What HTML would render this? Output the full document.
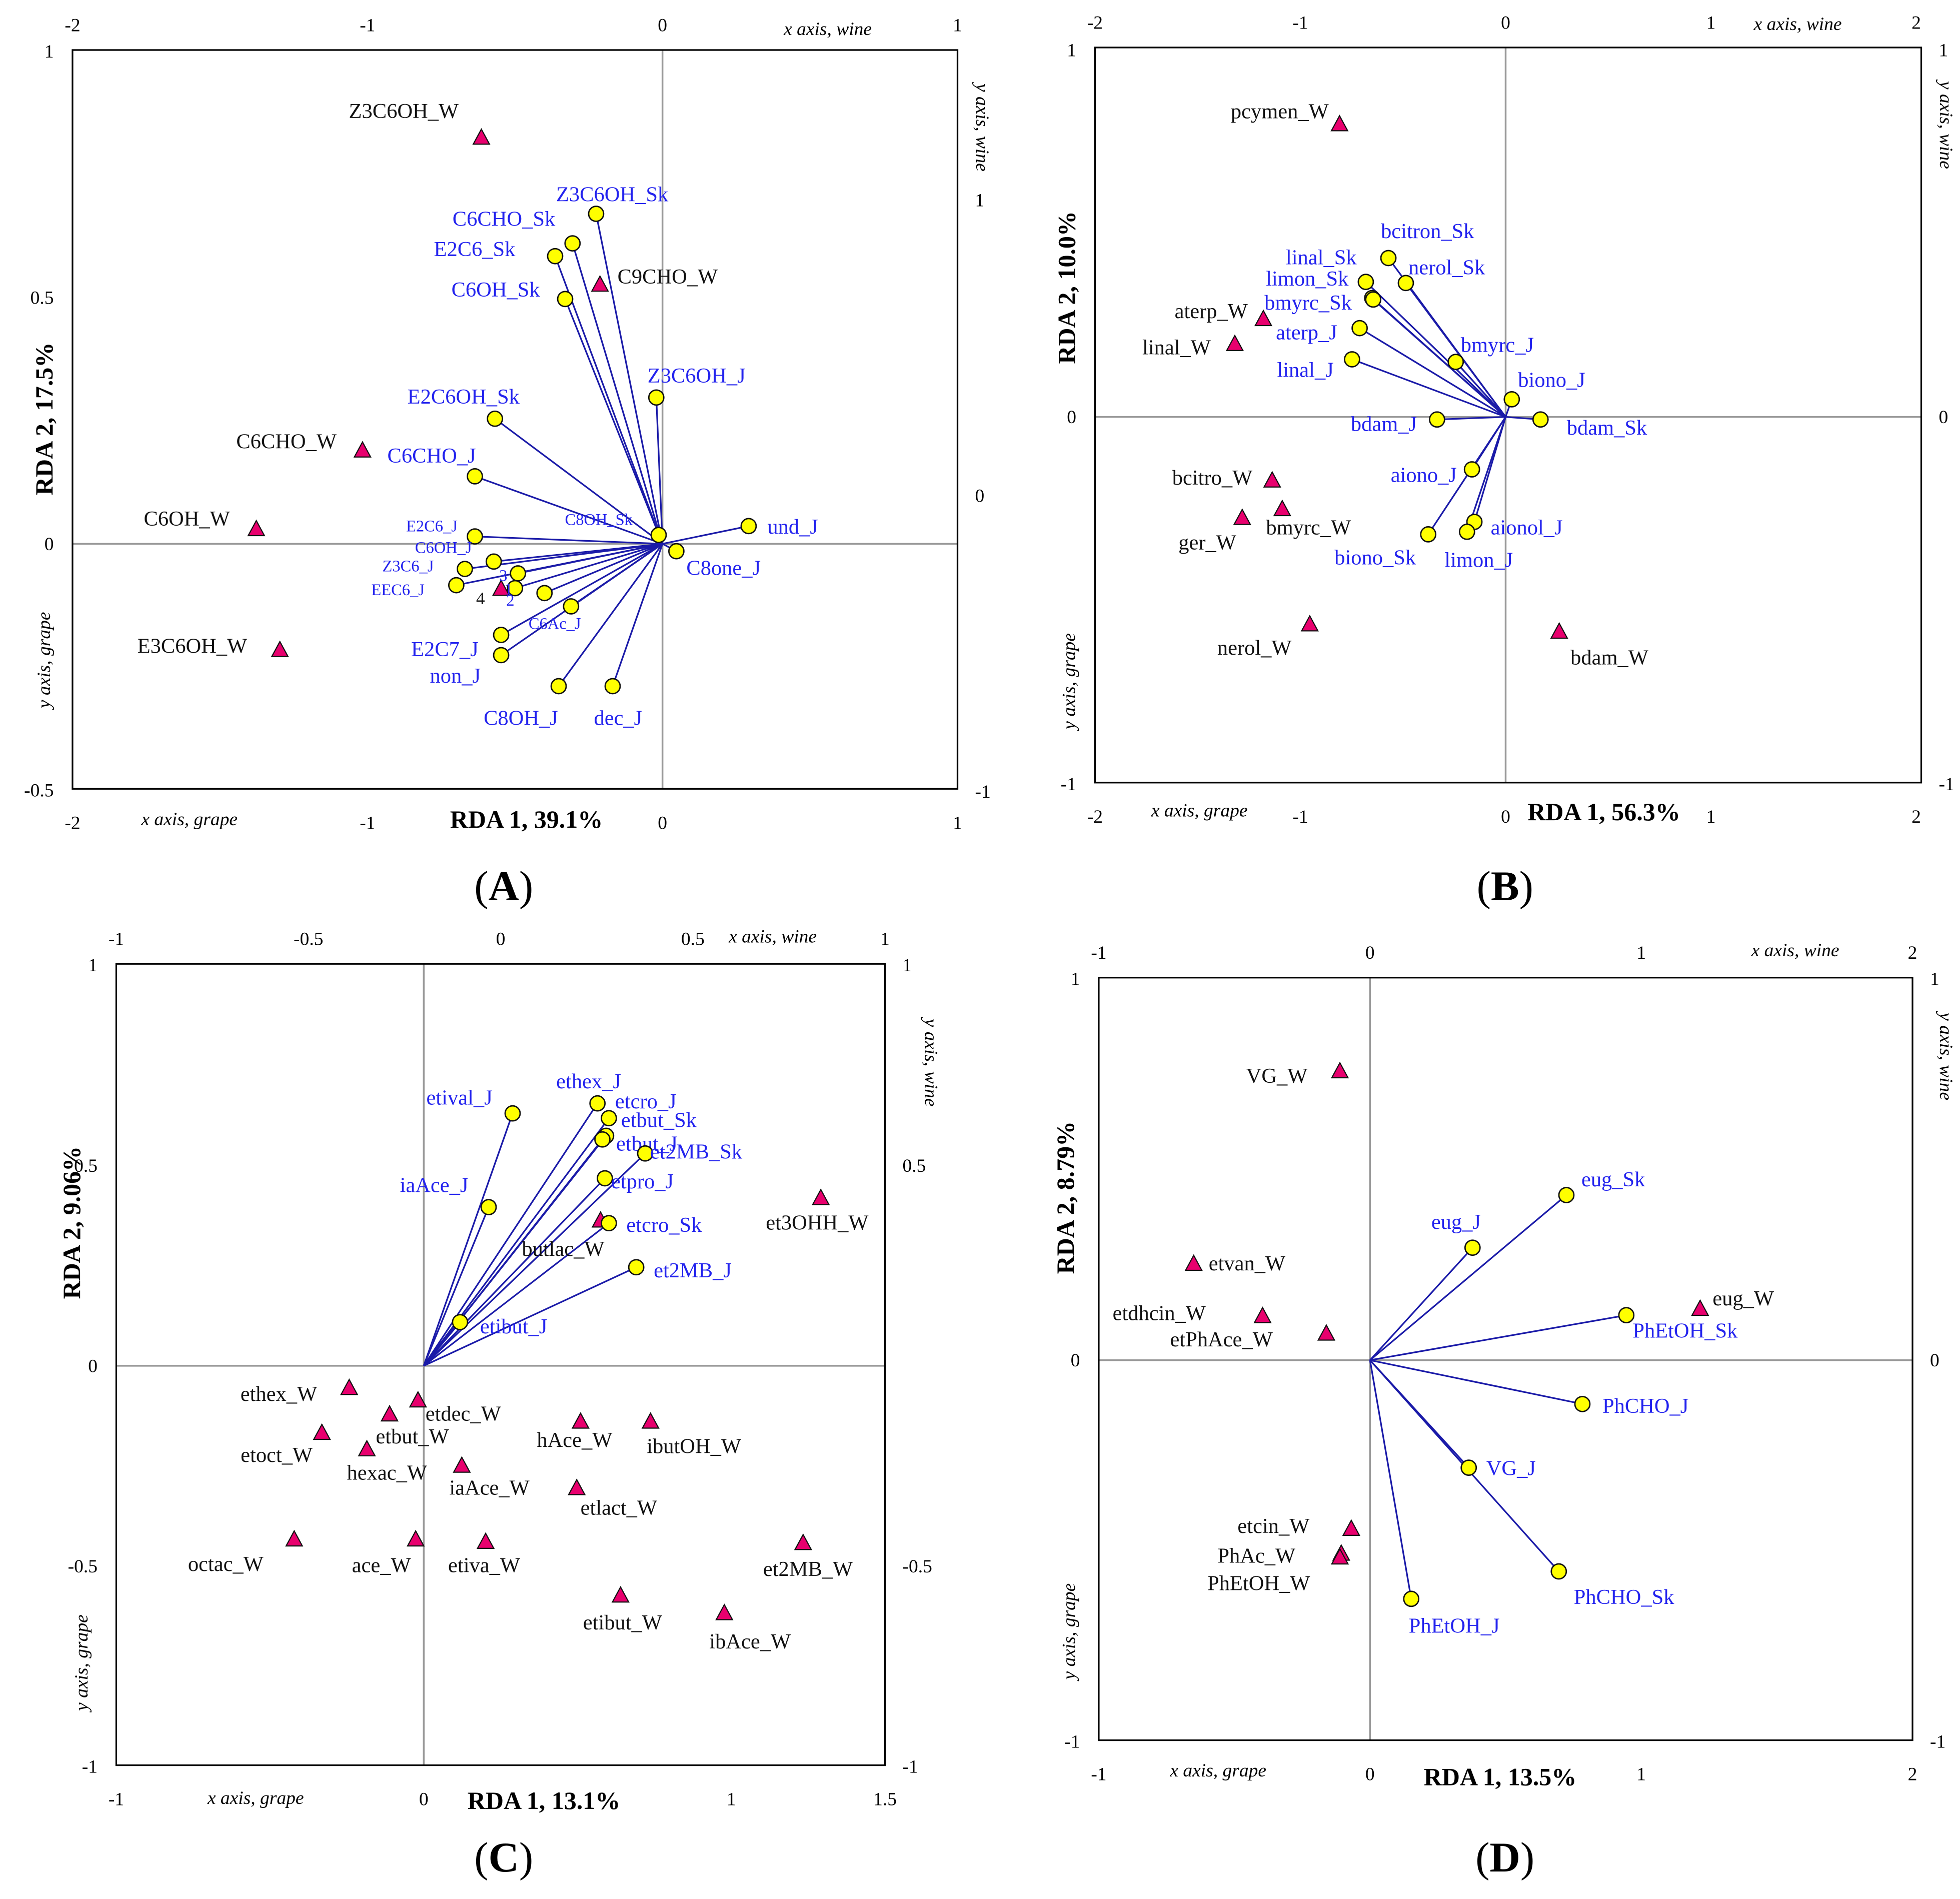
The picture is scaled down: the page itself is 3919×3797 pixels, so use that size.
<!DOCTYPE html>
<html><head><meta charset="utf-8"><style>
html,body{margin:0;padding:0;background:#fff;}
svg{display:block;}
text{font-family:"Liberation Serif",serif;}
</style></head><body>
<svg id="fig" xmlns="http://www.w3.org/2000/svg" width="3919" height="3797" viewBox="0 0 1568 1519" preserveAspectRatio="none"></svg>
<script>
// ---------- Panel A data ----------
const aCircleNames = ["Z3C6OH_Sk","C6CHO_Sk","E2C6_Sk","C6OH_Sk","Z3C6OH_J","E2C6OH_Sk","C6CHO_J","C8OH_Sk","und_J","C8one_J","E2C6_J","C6OH_J","Z3C6_J","EEC6_J","3","2","1","C6Ac_J","E2C7_J","non_J","C8OH_J","dec_J"];
const aCircleX = [-0.225,-0.305,-0.364,-0.33,-0.021,-0.568,-0.636,-0.013,0.292,0.047,-0.636,-0.572,-0.67,-0.699,-0.49,-0.50,-0.40,-0.31,-0.547,-0.547,-0.352,-0.169];
const aCircleY = [0.67,0.61,0.584,0.497,0.297,0.254,0.137,0.018,0.036,-0.015,0.015,-0.036,-0.051,-0.084,-0.06,-0.09,-0.10,-0.127,-0.185,-0.226,-0.289,-0.289];
const aTriNames = ["Z3C6OH_W","C9CHO_W","C6CHO_W","C6OH_W","E3C6OH_W","4"];
const aTriX = [-0.614,-0.212,-1.017,-1.377,-1.297,-0.547];
const aTriY = [1.21,0.713,0.152,-0.114,-0.523,-0.316];
// ---------- Panel B data ----------
const bCircleNames = ["bcitron_Sk","nerol_Sk","linal_Sk","limon_Sk","bmyrc_Sk","aterp_J","linal_J","bmyrc_J","biono_J","bdam_Sk","bdam_J","aiono_J","aionol_J","limon_J","biono_Sk"];
const bCircleX = [-0.571,-0.486,-0.681,-0.65,-0.645,-0.711,-0.748,-0.243,0.03,0.17,-0.334,-0.164,-0.152,-0.188,-0.377];
const bCircleY = [0.433,0.365,0.368,0.324,0.32,0.242,0.157,0.15,0.048,-0.007,-0.007,-0.143,-0.286,-0.313,-0.32];
const bTriNames = ["pcymen_W","aterp_W","linal_W","bcitro_W","ger_W","bmyrc_W","nerol_W","bdam_W"];
const bTriX = [-0.809,-1.18,-1.319,-1.137,-1.283,-1.088,-0.954,0.261];
const bTriY = [0.797,0.266,0.198,-0.174,-0.276,-0.252,-0.566,-0.586];
// ---------- Panel C data ----------
const cCircleNames = ["etival_J","ethex_J","etcro_J","etbut_Sk","etbut_J","et2MB_Sk","etpro_J","iaAce_J","etcro_Sk","et2MB_J","etibut_J"];
const cCircleX = [0.289,0.565,0.602,0.593,0.581,0.72,0.589,0.211,0.602,0.691,0.118];
const cCircleY = [0.63,0.655,0.618,0.574,0.565,0.53,0.468,0.396,0.356,0.246,0.109];
const cTriNames = ["et3OHH_W","butlac_W","ethex_W","etdec_W","etbut_W","etoct_W","hexac_W","iaAce_W","hAce_W","ibutOH_W","etlact_W","octac_W","ace_W","etiva_W","et2MB_W","etibut_W","ibAce_W"];
const cTriX = [0.833,0.26,-0.394,-0.215,-0.289,-0.465,-0.348,-0.101,0.208,0.39,0.198,-0.537,-0.221,-0.039,0.787,0.312,0.582];
const cTriY = [0.418,0.362,-0.056,-0.087,-0.122,-0.168,-0.209,-0.25,-0.14,-0.14,-0.306,-0.434,-0.434,-0.44,-0.443,-0.574,-0.618];
// ---------- Panel D data ----------
const dCircleNames = ["eug_Sk","eug_J","PhEtOH_Sk","PhCHO_J","VG_J","PhCHO_Sk","PhEtOH_J"];
const dCircleX = [0.724,0.378,0.945,0.783,0.364,0.696,0.152];
const dCircleY = [0.433,0.295,0.118,-0.115,-0.282,-0.554,-0.626];
const dTriNames = ["VG_W","etvan_W","eug_W","etdhcin_W","etPhAce_W","etcin_W","PhAc_W","PhEtOH_W"];
const dTriX = [-0.111,-0.65,1.217,-0.396,-0.161,-0.069,-0.106,-0.111];
const dTriY = [0.757,0.252,0.134,0.115,0.069,-0.443,-0.508,-0.518];
// ---------- tick labels ----------
const aTop=[-2,-1,0,1], aBottom=[-2,-1,0,1], aLeft=[1,0.5,0,-0.5], aRight=[1,0,-1];
const bTop=[-2,-1,0,1,2], bBottom=[-2,-1,0,1,2], bLeft=[1,0,-1], bRight=[1,0,-1];
const cTop=[-1,-0.5,0,0.5,1], cBottom=[-1,0,1,1.5], cLeft=[1,0.5,0,-0.5,-1], cRight=[1,0.5,-0.5,-1];
const dTop=[-1,0,1,2], dBottom=[-1,0,1,2], dLeft=[1,0,-1], dRight=[1,0,-1];

// label offsets (layout only)
const aCOff=[[-32,-10],[-96,-14],[-97,0],[-91,-2],[-7,-12],[-70,-12],[-70,-11],[-75,-8],[15,6],[8,19],[-55,-4],[-63,-7],[-66,2],[-68,8],[-15,6],[-7,14],[-32,1],[-34,18],[-72,17],[-57,22],[-60,31],[-15,31]];
const aCSmall=[0,0,0,0,0,0,0,1,0,0,1,1,1,1,1,1,1,1,0,0,0,0];
const aTOff=[[-106,-16],[14,-1],[-101,-2],[-90,-3],[-114,2],[-20,12]];
const bCOff=[[-6,-16],[2,-7],[-64,-14],[-85,-10],[-87,8],[-67,9],[-60,14],[4,-8],[5,-10],[21,12],[-69,9],[-65,10],[13,10],[-18,28],[-75,24]];
const bTOff=[[-87,-5],[-71,-1],[-74,8],[-80,3],[-51,25],[-13,20],[-74,24],[9,26]];
const cCOff=[[-69,-7],[-33,-12],[5,-8],[12,-7],[11,9],[4,4],[5,8],[-71,-12],[14,7],[14,8],[16,9]];
const cTOff=[[-44,25],[-63,28],[-87,10],[6,16],[-11,23],[-65,23],[-16,24],[-10,23],[-35,20],[-3,25],[3,21],[-85,25],[-51,26],[-30,24],[-32,26],[-30,27],[-12,28]];
const dCOff=[[12,-7],[-33,-15],[5,18],[16,7],[14,6],[12,26],[-2,27]];
const dTOff=[[-75,9],[12,5],[10,-3],[-120,3],[-125,10],[-91,3],[-99,7],[-106,26]];

const NS="http://www.w3.org/2000/svg";
const svg=document.getElementById('fig');
function mk(tag,attrs,parent){const e=document.createElementNS(NS,tag);for(const k in attrs)e.setAttribute(k,attrs[k]);(parent||svg).appendChild(e);return e;}
function lin(v0,p0,v1,p1){return v=>p0+(v-v0)*(p1-p0)/(v1-v0);}

const panels=[
 {id:'a',letter:'A',box:[58,40,766,631],gx:lin(-2,58,1,766),gy:lin(1,41,-0.5,632),wx:lin(-2,58,1,766),wy:lin(1,160,-1,633),
  cN:aCircleNames,cX:aCircleX,cY:aCircleY,tN:aTriNames,tX:aTriX,tY:aTriY,cOff:aCOff,cSmall:aCSmall,tOff:aTOff,
  top:aTop,bottom:aBottom,left:aLeft,right:aRight,xTitle:'RDA 1, 39.1%',xTitlePos:[360,662],yTitle:'RDA 2, 17.5%',yTitlePos:[42,335],
  xg:[113,660],xw:[627,28],yg:[40,528],yw:[781,102],letterPos:[403,720]},
 {id:'b',letter:'B',box:[876,38,1537,626],gx:lin(-2,876,2,1533),gy:lin(1,40,-1,627),wx:lin(-2,876,2,1533),wy:lin(1,40,-1,627),
  cN:bCircleNames,cX:bCircleX,cY:bCircleY,tN:bTriNames,tX:bTriX,tY:bTriY,cOff:bCOff,tOff:bTOff,
  top:bTop,bottom:bBottom,left:bLeft,right:bRight,xTitle:'RDA 1, 56.3%',xTitlePos:[1222,656],yTitle:'RDA 2, 10.0%',yTitlePos:[860,230],
  xg:[921,653],xw:[1403,24],yg:[860,545],yw:[1552,100],letterPos:[1204,720]},
 {id:'c',letter:'C',box:[93,771,708,1412],gx:lin(-1,93,1.5,708),gy:lin(1,772,-1,1413),wx:lin(-1,93,1,708),wy:lin(1,772,-1,1413),
  cN:cCircleNames,cX:cCircleX,cY:cCircleY,tN:cTriNames,tX:cTriX,tY:cTriY,cOff:cCOff,tOff:cTOff,
  top:cTop,bottom:cBottom,left:cLeft,right:cRight,xTitle:'RDA 1, 13.1%',xTitlePos:[374,1447],yTitle:'RDA 2, 9.06%',yTitlePos:[64,978],
  xg:[166,1443],xw:[583,754],yg:[70,1330],yw:[740,850],letterPos:[403,1497]},
 {id:'d',letter:'D',box:[879,782,1530,1392],gx:lin(-1,879,2,1530),gy:lin(1,783,-1,1393),wx:lin(-1,879,2,1530),wy:lin(1,783,-1,1393),
  cN:dCircleNames,cX:dCircleX,cY:dCircleY,tN:dTriNames,tX:dTriX,tY:dTriY,cOff:dCOff,tOff:dTOff,
  top:dTop,bottom:dBottom,left:dLeft,right:dRight,xTitle:'RDA 1, 13.5%',xTitlePos:[1139,1428],yTitle:'RDA 2, 8.79%',yTitlePos:[859,958],
  xg:[936,1421],xw:[1401,765],yg:[860,1305],yw:[1552,845],letterPos:[1204,1497]}
];

panels.forEach(P=>{
  const g=mk('g',{});
  
  
  const [x0,y0,x1,y1]=P.box;
  const ox=P.gx(0), oy=P.gy(0);
  const zl=mk('line',{x1:x0,y1:oy,x2:x1,y2:oy,stroke:'#9a9a9a','stroke-width':1.4},g);
  
  
  const zv=mk('line',{x1:ox,y1:y0,x2:ox,y2:y1,stroke:'#9a9a9a','stroke-width':1.4},g);
  
  
  const box=mk('rect',{x:x0,y:y0,width:x1-x0,height:y1-y0,fill:'none',stroke:'#000','stroke-width':1.3},g);
  
  
  P.cN.forEach((n,i)=>{
    const l=mk('line',{x1:ox,y1:oy,x2:P.gx(P.cX[i]),y2:P.gy(P.cY[i]),stroke:'#1a1aa8','stroke-width':1.3},g);
    
    
  });
  P.tN.forEach((n,i)=>{
    const px=P.wx(P.tX[i]), py=P.wy(P.tY[i]);
    const t=mk('polygon',{points:`${px},${py-7} ${px-6.5},${py+5} ${px+6.5},${py+5}`,fill:'#e8006e',stroke:'#111','stroke-width':0.9},g);
    
    
    const o=P.tOff[i];
    const tx=mk('text',{x:px+o[0],y:py+o[1],'font-size':n.length<2?14:17,fill:'#111'},g);
    tx.textContent=n;
    
    
  });
  P.cN.forEach((n,i)=>{
    const px=P.gx(P.cX[i]), py=P.gy(P.cY[i]);
    const c=mk('circle',{cx:px,cy:py,r:6,fill:'#ffff00',stroke:'#111','stroke-width':1.1},g);
    
    
    const o=P.cOff[i];
    const small=P.cSmall&&P.cSmall[i];
    const tx=mk('text',{x:px+o[0],y:py+o[1],'font-size':small?13:17,fill:'#2323ee'},g);
    tx.textContent=n;
    
    
  });
  P.top.forEach(v=>{const t=mk('text',{x:P.wx(v),y:y0-15,'font-size':15,'text-anchor':'middle'},g);t.textContent=v;
    
    });
  P.bottom.forEach(v=>{const t=mk('text',{x:P.gx(v),y:y1+32,'font-size':15,'text-anchor':'middle'},g);t.textContent=v;
    
    });
  P.left.forEach(v=>{const t=mk('text',{x:x0-15,y:P.gy(v)+5,'font-size':15,'text-anchor':'end'},g);t.textContent=v;
    
    });
  P.right.forEach(v=>{const t=mk('text',{x:x1+14,y:P.wy(v)+5,'font-size':15,'text-anchor':'start'},g);t.textContent=v;
    
    });
  let t=mk('text',{x:P.xTitlePos[0],y:P.xTitlePos[1],'font-size':20,'font-weight':'bold'},g);t.textContent=P.xTitle;
  
  
  t=mk('text',{x:0,y:0,'font-size':20,'font-weight':'bold','text-anchor':'middle',transform:`translate(${P.yTitlePos[0]},${P.yTitlePos[1]}) rotate(-90)`},g);t.textContent=P.yTitle;
  
  
  t=mk('text',{x:P.xg[0],y:P.xg[1],'font-size':15,'font-style':'italic'},g);t.textContent='x axis, grape';
  
  
  t=mk('text',{x:P.xw[0],y:P.xw[1],'font-size':15,'font-style':'italic'},g);t.textContent='x axis, wine';
  
  
  t=mk('text',{x:0,y:0,'font-size':15,'font-style':'italic','text-anchor':'middle',transform:`translate(${P.yg[0]},${P.yg[1]}) rotate(-90)`},g);t.textContent='y axis, grape';
  
  
  t=mk('text',{x:0,y:0,'font-size':15,'font-style':'italic','text-anchor':'middle',transform:`translate(${P.yw[0]},${P.yw[1]}) rotate(90)`},g);t.textContent='y axis, wine';
  
  
  t=mk('text',{x:P.letterPos[0],y:P.letterPos[1],'font-size':34,'text-anchor':'middle'},g);
  t.innerHTML='(<tspan font-weight="bold">'+P.letter+'</tspan>)';
  
  
});
</script>
</body></html>
